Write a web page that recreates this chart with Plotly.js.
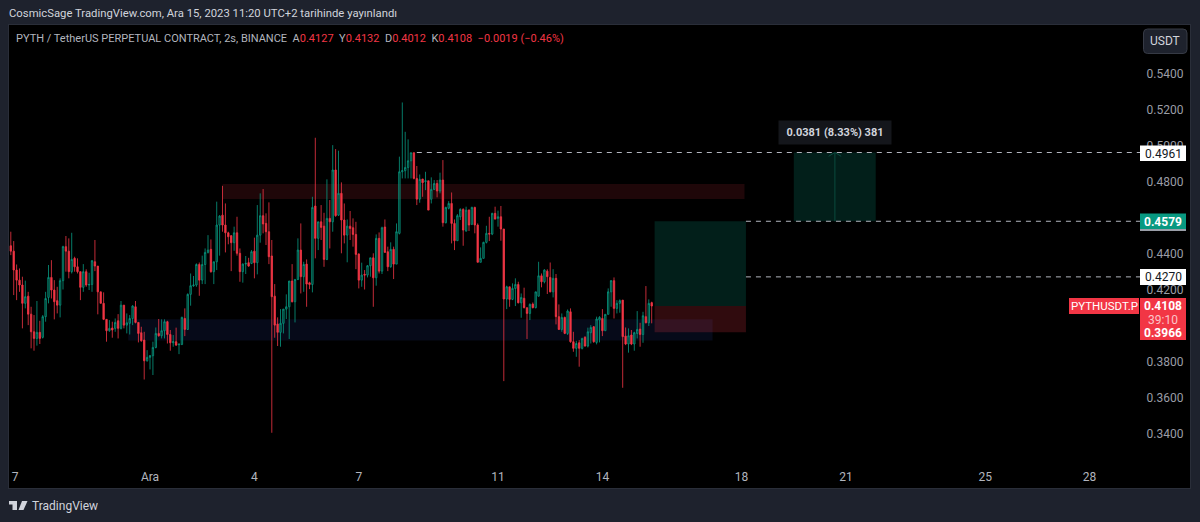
<!DOCTYPE html>
<html><head><meta charset="utf-8">
<script src="https://cdn.plot.ly/plotly-3.0.1.min.js"></script>
<style>html,body{margin:0;padding:0;background:#1e222d;overflow:hidden}#c{width:1200px;height:522px}</style>
</head><body><div id="c"></div>
<script>
const startTime = '2023-11-27T00:00:00Z';
const barHours = 2;
const opens = [.4443,.4413,.4308,.4252,.4225,.4123,.4163,.4063,.3965,.3928,.3962,.3934,.4049,.4156,.4267,.4197,.4138,.4113,.4249,.4438,.4413,.4299,.4373,.4326,.4299,.4212,.4299,.4225,.4228,.4354,.4330,.4187,.4123,.4034,.3971,.3986,.3984,.4026,.3984,.4113,.4002,.4012,.4039,.4104,.4017,.3960,.3919,.3804,.3823,.3832,.3878,.3956,.3943,.3971,.4021,.3950,.3904,.3910,.3893,.3895,.4039,.3978,.4173,.4221,.4225,.4339,.4252,.4339,.4406,.4423,.4299,.4354,
.4558,.4613,.4558,.4515,.4499,.4460,.4515,.4401,.4299,.4341,.4349,.4345,.4413,.4349,.4502,.4610,.4567,.4521,.4386,.4163,.4008,.3962,.4012,.4091,.4104,.4247,.4132,.4256,.4419,.4271,.4341,.4237,.4228,.4664,.4484,.4576,.4552,.4367,.4595,.4576,.4864,.4613,.4734,.4586,.4502,.4552,.4543,.4506,.4397,.4252,.4284,.4280,.4332,.4376,.4265,.4484,.4302,.4547,.4410,.4326,.4423,.4341,.4512,.4854,.4860,.4878,.4915,.4960,.4817,.4702,.4814,.4799,.4804,
.4701,.4756,.4789,.4747,.4808,.4571,.4651,.4678,.4567,.4471,.4604,.4645,.4525,.4641,.4562,.4656,.4558,.4351,.4373,.4462,.4512,.4508,.4623,.4595,.4604,.4536,.4147,.4215,.4145,.4206,.4228,.4126,.4151,.4099,.4067,.4119,.4099,.4163,.4276,.4243,.4302,.4267,.4187,.4262,.4049,.3978,.4045,.3956,.4076,.3910,.3873,.3904,.3873,.3934,.3886,.3960,.3993,.3906,.4030,.4039,.3971,.4062,.4187,.4249,.4095,.4123,.4141,.3941,.3897,.3947,.3897,.3956,.3980,.3950,.4049,.4015,.4127];
const highs = [.4521,.4469,.4339,.4317,.4271,.4249,.4187,.4104,.4058,.4136,.4026,.4058,.4187,.4336,.4363,.4252,.4215,.4262,.4443,.4497,.4484,.4515,.4382,.4373,.4299,.4341,.4312,.4293,.4363,.4475,.4330,.4187,.4184,.4034,.4030,.4021,.4039,.4063,.4136,.4113,.4067,.4058,.4113,.4136,.4017,.3993,.3965,.3863,.3836,.3910,.3989,.4036,.4034,.4034,.4026,.3975,.3947,.3988,.3897,.4049,.4095,.4178,.4289,.4275,.4345,.4350,.4388,.4428,.4502,.4478,.4354,.4688,
.4613,.4776,.4678,.4521,.4502,.4549,.4604,.4428,.4345,.4386,.4376,.4419,.4488,.4669,.4734,.4758,.4623,.4684,.4475,.4230,.4045,.4091,.4091,.4173,.4247,.4341,.4256,.4484,.4567,.4354,.4367,.4243,.4715,.5043,.4576,.4669,.4626,.4812,.4697,.5002,.4980,.4971,.4795,.4678,.4589,.4636,.4595,.4576,.4401,.4349,.4308,.4336,.4376,.4401,.4506,.4517,.4549,.4589,.4438,.4462,.4438,.4567,.4938,.5239,.5076,.5034,.4960,.4960,.4886,.4839,.4814,.4854,.4804,
.4823,.4808,.4808,.4849,.4919,.4660,.4691,.4739,.4589,.4619,.4651,.4651,.4660,.4645,.4660,.4660,.4567,.4434,.4465,.4554,.4604,.4626,.4660,.4638,.4664,.4536,.4221,.4215,.4234,.4262,.4243,.4178,.4210,.4099,.4123,.4128,.4187,.4354,.4289,.4313,.4312,.4350,.4313,.4286,.4117,.4067,.4049,.4089,.4095,.3965,.3915,.3919,.3932,.3941,.3988,.4002,.3997,.4049,.4052,.4091,.4063,.4206,.4252,.4267,.4141,.4145,.4141,.3989,.3984,.3975,.3965,.4080,.4015,.4076,.4219,.4145,.4132];
const lows = [.4391,.4169,.4141,.4187,.3984,.4095,.4002,.3873,.3860,.3888,.3897,.3928,.4021,.4123,.4150,.4034,.4067,.4045,.4200,.4299,.4262,.4289,.4299,.4289,.4141,.4187,.4215,.4197,.4187,.4302,.4062,.4123,.4030,.3910,.3965,.3932,.3965,.3928,.3978,.3984,.3956,.3950,.4002,.4012,.3906,.3910,.3700,.3799,.3756,.3725,.3873,.3938,.3928,.3928,.3900,.3860,.3882,.3886,.3841,.3891,.3941,.3975,.4110,.4215,.4215,.4165,.4230,.4230,.4400,.4293,.4230,.4308,
.4388,.4521,.4406,.4451,.4302,.4415,.4388,.4243,.4238,.4286,.4326,.4341,.4262,.4284,.4460,.4512,.4447,.4341,.3404,.3932,.3886,.3882,.3956,.4036,.3925,.4128,.4017,.4252,.4178,.4187,.4104,.4202,.4184,.4373,.4419,.4475,.4326,.4363,.4428,.4521,.4604,.4608,.4401,.4456,.4351,.4475,.4438,.4313,.4206,.4215,.4200,.4267,.4271,.4104,.4221,.4289,.4286,.4406,.4302,.4321,.4258,.4341,.4506,.4817,.4817,.4817,.4817,.4812,.4669,.4682,.4715,.4752,.4641,
.4678,.4752,.4712,.4734,.4549,.4567,.4645,.4456,.4419,.4471,.4586,.4443,.4521,.4525,.4558,.4512,.4351,.4351,.4373,.4456,.4469,.4502,.4589,.4549,.4471,.3691,.4091,.4104,.4141,.4108,.4123,.4043,.4095,.3925,.4030,.4095,.4095,.4160,.4212,.4234,.4175,.4184,.4156,.4006,.3975,.3965,.3952,.3947,.3904,.3854,.3826,.3771,.3867,.3882,.3878,.3900,.3904,.3895,.3906,.3941,.3971,.4062,.4104,.4039,.4067,.4071,.3654,.3891,.3849,.3891,.3860,.3928,.3882,.3904,.4012,.3997,.4012];
const closes = [.4413,.4308,.4252,.4225,.4123,.4160,.4063,.3965,.3928,.3962,.3928,.4049,.4150,.4267,.4197,.4132,.4113,.4249,.4438,.4413,.4299,.4367,.4326,.4299,.4212,.4299,.4225,.4228,.4360,.4330,.4187,.4123,.4034,.3971,.3984,.3975,.4017,.3984,.4113,.4002,.4015,.4039,.4108,.4017,.3956,.3915,.3804,.3823,.3832,.3878,.3956,.3943,.3971,.4021,.3950,.3904,.3910,.3891,.3897,.4045,.3978,.4173,.4221,.4225,.4339,.4252,.4339,.4406,.4419,.4299,.4354,.4558,
.4608,.4558,.4515,.4493,.4460,.4515,.4401,.4299,.4341,.4345,.4330,.4410,.4349,.4502,.4610,.4564,.4521,.4382,.4160,.4002,.3962,.4012,.4091,.4104,.4247,.4132,.4256,.4419,.4271,.4339,.4230,.4228,.4656,.4484,.4576,.4545,.4367,.4595,.4576,.4864,.4610,.4734,.4586,.4502,.4552,.4539,.4506,.4395,.4252,.4280,.4280,.4332,.4376,.4265,.4484,.4302,.4543,.4406,.4326,.4423,.4341,.4521,.4854,.4860,.4878,.4915,.4960,.4817,.4702,.4812,.4793,.4804,.4641,
.4756,.4789,.4747,.4808,.4571,.4656,.4678,.4567,.4471,.4610,.4645,.4530,.4641,.4558,.4656,.4558,.4351,.4373,.4462,.4512,.4508,.4623,.4591,.4604,.4536,.4147,.4215,.4145,.4206,.4228,.4126,.4156,.4099,.4067,.4117,.4099,.4187,.4276,.4243,.4308,.4271,.4187,.4262,.4049,.3978,.4045,.3956,.4080,.3910,.3873,.3900,.3873,.3928,.3886,.3965,.3989,.3910,.4036,.4045,.3971,.4062,.4187,.4249,.4095,.4123,.4138,.3938,.3897,.3943,.3897,.3960,.3978,.3950,.4054,.4015,.4123,.4108];

const dateTicks = ['2023-11-27 03:00','2023-12-01','2023-12-04','2023-12-07','2023-12-11','2023-12-14','2023-12-18','2023-12-21','2023-12-25','2023-12-28'];
const dateLabels = ['7','Ara','4','7','11','14','18','21','25','28'];
const priceTicks = [0.54,0.52,0.50,0.48,0.44,0.42,0.38,0.36,0.34];
const resistanceZone = {x:['2023-12-03 02:00','2023-12-18 02:00'], y:[0.4703,0.4786]};
const supportZone = {x:['2023-11-30 09:00','2023-12-17 04:00'], y:[0.3916,0.4034]};
const targetZone = {x:['2023-12-15 12:00','2023-12-18 03:00'], y:[0.4108,0.4579]};
const stopZone = {x:['2023-12-15 12:00','2023-12-18 03:00'], y:[0.3962,0.4108]};
const measureZone = {x:['2023-12-19 12:00','2023-12-21 20:30'], y:[0.4579,0.4961]};
const measureMid = '2023-12-20 16:20';
const arrowLeft = '2023-12-20 12:00';
const arrowRight = '2023-12-20 20:40';
const arrowBase = 0.4940;
const levels = [{p:0.4961,x0:'2023-12-08 16:00'},{p:0.4579,x0:'2023-12-18 03:00'},{p:0.4270,x0:'2023-12-18 03:00'}];
const rangeEnd = '2023-12-29 11:00';

const times = closes.map((_,i)=>new Date(Date.parse(startTime)+i*barHours*3600000).toISOString().slice(0,16).replace('T',' '));

const UP='#089981', DOWN='#f23645', FONT='Roboto, "Open Sans", sans-serif';
const PX0=9,PX1=1190,PY0=25,PY1=488;
const px=x=>(x-PX0)/(PX1-PX0), py=y=>1-(y-PY0)/(PY1-PY0);

const box=(x0,y0,x1,y1,fill,line)=>({type:'rect',xref:'paper',yref:'paper',x0:px(x0),x1:px(x1),y0:py(y0),y1:py(y1),fillcolor:fill,line:{width:line?1:0,color:line||fill},layer:'above'});
const zone=(z,fill)=>({type:'rect',xref:'x',yref:'y',x0:z.x[0],x1:z.x[1],y0:z.y[0],y1:z.y[1],fillcolor:fill,line:{width:0},layer:'below'});
const text=(x,y,t,size,color,anchor,extra)=>Object.assign({xref:'paper',yref:'paper',x:px(x),y:py(y),text:t,showarrow:false,xanchor:anchor||'left',yanchor:'middle',font:{family:FONT,size:size,color:color},borderpad:0},extra||{});
const logoPts=[[9,501],[17,501],[17,510],[12.5,510],[12.5,504.5],[9,504.5]];
const logoSlash=[[22,501],[27.5,501],[23.5,510],[18.5,510]];
const path=pts=>'M'+pts.map(p=>px(p[0])+','+py(p[1])).join('L')+'Z';
const rounded=(x0,y0,x1,y1,r)=>'M'+px(x0+r)+','+py(y0)+'L'+px(x1-r)+','+py(y0)+'Q'+px(x1)+','+py(y0)+' '+px(x1)+','+py(y0+r)+'L'+px(x1)+','+py(y1-r)+'Q'+px(x1)+','+py(y1)+' '+px(x1-r)+','+py(y1)+'L'+px(x0+r)+','+py(y1)+'Q'+px(x0)+','+py(y1)+' '+px(x0)+','+py(y1-r)+'L'+px(x0)+','+py(y0+r)+'Q'+px(x0)+','+py(y0)+' '+px(x0+r)+','+py(y0)+'Z';
const seg=(x0,y0,x1,y1)=>({type:'line',xref:'x',yref:'y',x0,x1,y0,y1,line:{color:'#0a4a3e',width:1},layer:'below'});

const shapes=[
 zone(supportZone,'rgba(33,58,148,0.17)'),
 zone(resistanceZone,'rgba(242,54,69,0.13)'),
 zone(targetZone,'rgba(8,153,129,0.2)'),
 zone(stopZone,'rgba(242,54,69,0.2)'),
 zone(measureZone,'rgba(8,153,129,0.2)'),
 seg(measureMid,measureZone.y[0],measureMid,measureZone.y[1]),
 seg(arrowLeft,arrowBase,measureMid,measureZone.y[1]),
 seg(arrowRight,arrowBase,measureMid,measureZone.y[1]),
 ...levels.map(l=>({type:'line',xref:'x',yref:'y',x0:l.x0,x1:rangeEnd,y0:l.p,y1:l.p,line:{color:'#b2b5be',width:1,dash:'5px,5px'},layer:'above'})),
 box(1140,145.5,1186,161,'#ffffff'),
 box(1140,213.5,1186,229,UP),
 box(1140,229,1186,231,'#9a9ea8'),
 box(1140,269,1186,285,'#ffffff'),
 box(1140,298,1186,340,DOWN),
 box(1069,298,1139,314,DOWN),
 {type:'path',xref:'paper',yref:'paper',path:path(logoPts),fillcolor:'#d1d4dc',line:{width:0},layer:'above'},
 {type:'path',xref:'paper',yref:'paper',path:path(logoSlash),fillcolor:'#d1d4dc',line:{width:0},layer:'above'},
 {type:'path',xref:'paper',yref:'paper',path:rounded(1143.5,29,1187,53.5,4),fillcolor:'#1e222d',line:{color:'#363a45',width:1},layer:'above'}
];

const gray='#b2b5be', red='#f23645';
const sp=(c,t)=>'<span style="color:'+c+'">'+t+'</span>';
const annotations=[
 text(8,14,'CosmicSage TradingView.com, Ara 15, 2023 11:20 UTC+2 tarihinde yayınlandı',11.3,'#d1d4dc'),
 text(15,39,sp(gray,'PYTH / TetherUS PERPETUAL CONTRACT, 2s, BINANCE  A')+sp(red,'0.4127')+sp(gray,'  Y')+sp(red,'0.4132')+sp(gray,'  D')+sp(red,'0.4012')+sp(gray,'  K')+sp(red,'0.4108')+sp(red,'  −0.0019 (−0.46%)'),11,gray),
 text(1165,41,'USDT',12,'#d1d4dc','center'),
 text(1163,153.5,'0.4961',12,'#131722','center'),
 text(1163,221.5,'<b>0.4579</b>',12,'#ffffff','center'),
 text(1163,277,'0.4270',12,'#131722','center'),
 text(1163,306,'<b>0.4108</b>',12,'#ffffff','center'),
 text(1163,319.5,'39:10',12,'#fbc4c9','center'),
 text(1163,332.5,'<b>0.3966</b>',12,'#ffffff','center'),
 text(1104,306,'PYTHUSDT.P',11.5,'#ffffff','center'),
 text(835,132.5,'<b>0.0381 (8.33%) 381</b>',11,'#d1d4dc','center',{bgcolor:'#14161b',borderpad:5,width:102}),
 text(31,505.5,'TradingView',12,'#d1d4dc')
];

Plotly.newPlot('c',[{
  type:'candlestick',x:times,open:opens,high:highs,low:lows,close:closes,
  increasing:{line:{color:UP,width:0.8},fillcolor:'rgba(8,153,129,0.25)'},
  decreasing:{line:{color:DOWN,width:0.8},fillcolor:DOWN},
  whiskerwidth:0,hoverinfo:'skip',showlegend:false
}],{
  width:1200,height:522,
  paper_bgcolor:'#1e222d',plot_bgcolor:'#000000',
  margin:{l:PX0,r:1200-PX1,t:PY0,b:522-PY1,pad:0},
  font:{family:FONT,color:gray,size:12},
  showlegend:false,hovermode:false,dragmode:false,
  xaxis:{type:'date',range:['2023-11-26 22:45','2023-12-30 21:15'],rangeslider:{visible:false},
    tickmode:'array',tickvals:dateTicks,ticktext:dateLabels,ticks:'',ticklabelposition:'inside',ticklabelstandoff:4,
    tickfont:{size:12,color:gray},showgrid:false,zeroline:false,showline:true,linecolor:'#2a2e39',mirror:true,fixedrange:true},
  yaxis:{side:'right',range:[0.30972,0.56694],tickmode:'array',tickvals:priceTicks,ticktext:priceTicks.map(v=>v.toFixed(4)),
    ticks:'',ticklabelposition:'inside',ticklabelstandoff:6,tickfont:{size:12,color:'#9a9da6'},showgrid:false,zeroline:false,showline:true,linecolor:'#2a2e39',mirror:true,fixedrange:true},
  shapes:shapes,annotations:annotations
},{displayModeBar:false,staticPlot:true});
</script></body></html>
